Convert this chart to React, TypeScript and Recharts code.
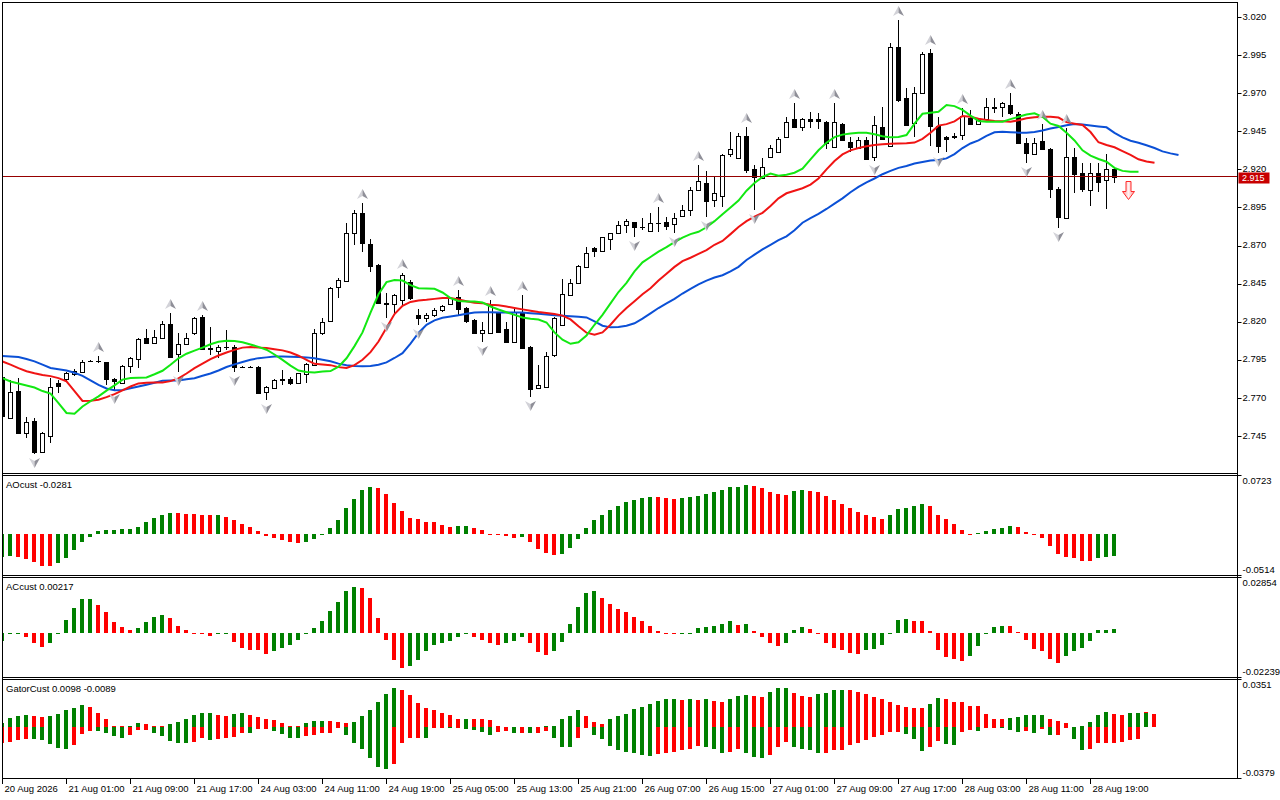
import React from "react";
import { ComposedChart, Bar, Line, XAxis, YAxis, Scatter, ReferenceLine, Cell } from "recharts";

// ---------- DATA ----------
const opens = [
  2.7840, 2.7570, 2.7746, 2.7468, 2.7549, 2.7342, 2.7452, 2.7796, 2.7822, 2.7857,
  2.7872, 2.7942, 2.7943, 2.7934, 2.7822, 2.7796, 2.7912, 2.7953, 2.8091, 2.8063,
  2.8091, 2.8185, 2.7986, 2.8052, 2.8124, 2.8229, 2.8021, 2.8010, 2.8034, 2.8036,
  2.7905, 2.7905, 2.7905, 2.7737, 2.7763, 2.7820, 2.7825, 2.7800, 2.7857, 2.7916,
  2.8124, 2.8207, 2.8430, 2.8469, 2.8780, 2.8916, 2.8710, 2.8572, 2.8319, 2.8317,
  2.8343, 2.8461, 2.8244, 2.8222, 2.8244, 2.8277, 2.8314, 2.8360, 2.8288, 2.8211,
  2.8124, 2.8128, 2.8255, 2.8150, 2.8069, 2.8266, 2.8036, 2.7763, 2.7774, 2.7981,
  2.8178, 2.8376, 2.8456, 2.8561, 2.8682, 2.8666, 2.8741, 2.8780, 2.8835, 2.8852,
  2.8822, 2.8798, 2.8848, 2.8852, 2.8839, 2.8894, 2.8933, 2.9065, 2.9108, 2.8999,
  2.9025, 2.9299, 2.9272, 2.9419, 2.9200, 2.9141, 2.9279, 2.9316, 2.9410, 2.9528,
  2.9476, 2.9528, 2.9528, 2.9513, 2.9349, 2.9495, 2.9382, 2.9338, 2.9395, 2.9279,
  2.9476, 2.9353, 3.0005, 2.9666, 2.9502, 2.9699, 2.9966, 2.9485, 2.9415, 2.9417,
  2.9426, 2.9535, 2.9498, 2.9528, 2.9605, 2.9607, 2.9622, 2.9563, 2.9375, 2.9301,
  2.9388, 2.9332, 2.9069, 2.8879, 2.9279, 2.9178, 2.9065, 2.9178, 2.9130, 2.9200,
];
const highs = [
  2.7850, 2.7818, 2.7829, 2.7577, 2.7570, 2.7479, 2.7829, 2.7818, 2.7872, 2.7888,
  2.7949, 2.7949, 2.7975, 2.7938, 2.7829, 2.7916, 2.7971, 2.8091, 2.8152, 2.8146,
  2.8205, 2.8255, 2.8124, 2.8124, 2.8228, 2.8244, 2.8168, 2.8047, 2.8146, 2.8047,
  2.7912, 2.7910, 2.7910, 2.7781, 2.7825, 2.7883, 2.7840, 2.7866, 2.7927, 2.8150,
  2.8222, 2.8430, 2.8485, 2.8846, 2.8933, 2.8977, 2.8741, 2.8578, 2.8387, 2.8383,
  2.8518, 2.8474, 2.8281, 2.8255, 2.8290, 2.8310, 2.8360, 2.8408, 2.8299, 2.8215,
  2.8200, 2.8343, 2.8266, 2.8200, 2.8288, 2.8375, 2.8041, 2.7916, 2.8004, 2.8233,
  2.8478, 2.8478, 2.8572, 2.8693, 2.8693, 2.8758, 2.8785, 2.8863, 2.8872, 2.8856,
  2.8879, 2.8911, 2.8955, 2.8889, 2.8911, 2.8966, 2.9086, 2.9229, 2.9189, 2.9148,
  2.9301, 2.9447, 2.9436, 2.9480, 2.9229, 2.9272, 2.9360, 2.9415, 2.9541, 2.9638,
  2.9535, 2.9579, 2.9568, 2.9520, 2.9638, 2.9502, 2.9415, 2.9415, 2.9415, 2.9548,
  2.9611, 3.0032, 3.0180, 2.9732, 2.9738, 2.9972, 2.9988, 2.9546, 2.9419, 2.9437,
  2.9601, 2.9590, 2.9535, 2.9666, 2.9666, 2.9644, 2.9699, 2.9579, 2.9404, 2.9404,
  2.9498, 2.9338, 2.9082, 2.9469, 2.9338, 2.9244, 2.9244, 2.9240, 2.9301, 2.9207,
];
const lows = [
  2.7577, 2.7562, 2.7468, 2.7435, 2.7332, 2.7338, 2.7402, 2.7730, 2.7813, 2.7844,
  2.7866, 2.7935, 2.7931, 2.7785, 2.7752, 2.7792, 2.7861, 2.7894, 2.8058, 2.8058,
  2.8085, 2.7967, 2.7872, 2.8047, 2.8113, 2.8019, 2.7981, 2.7960, 2.8014, 2.7872,
  2.7898, 2.7898, 2.7730, 2.7687, 2.7756, 2.7785, 2.7785, 2.7796, 2.7796, 2.7914,
  2.8113, 2.8204, 2.8353, 2.8462, 2.8704, 2.8660, 2.8528, 2.8315, 2.8222, 2.8255,
  2.8310, 2.8343, 2.8178, 2.8200, 2.8233, 2.8262, 2.8309, 2.8240, 2.8189, 2.8124,
  2.8069, 2.8124, 2.8128, 2.8063, 2.8063, 2.8025, 2.7708, 2.7756, 2.7768, 2.7970,
  2.8172, 2.8370, 2.8452, 2.8557, 2.8628, 2.8660, 2.8671, 2.8776, 2.8780, 2.8758,
  2.8802, 2.8796, 2.8791, 2.8802, 2.8780, 2.8889, 2.8893, 2.9060, 2.8889, 2.8951,
  2.8955, 2.9284, 2.9266, 2.9178, 2.8933, 2.9135, 2.9272, 2.9310, 2.9404, 2.9469,
  2.9449, 2.9469, 2.9462, 2.9331, 2.9345, 2.9386, 2.9317, 2.9331, 2.9262, 2.9252,
  2.9395, 2.9349, 2.9645, 2.9484, 2.9415, 2.9695, 2.9353, 2.9310, 2.9316, 2.9397,
  2.9393, 2.9491, 2.9491, 2.9524, 2.9568, 2.9546, 2.9557, 2.9371, 2.9244, 2.9295,
  2.9327, 2.9010, 2.8813, 2.8875, 2.9043, 2.9049, 2.8959, 2.9049, 2.8938, 2.9108,
];
const closes = [
  2.7583, 2.7737, 2.7472, 2.7544, 2.7343, 2.7468, 2.7774, 2.7780, 2.7862, 2.7879,
  2.7938, 2.7943, 2.7941, 2.7822, 2.7814, 2.7912, 2.7960, 2.8085, 2.8063, 2.8102,
  2.8185, 2.7971, 2.8052, 2.8091, 2.8222, 2.8021, 2.8025, 2.8036, 2.8036, 2.7901,
  2.7903, 2.7906, 2.7734, 2.7774, 2.7818, 2.7822, 2.7796, 2.7862, 2.7920, 2.8124,
  2.8200, 2.8419, 2.8474, 2.8780, 2.8916, 2.8719, 2.8566, 2.8321, 2.8323, 2.8376,
  2.8507, 2.8354, 2.8226, 2.8244, 2.8277, 2.8303, 2.8353, 2.8281, 2.8207, 2.8128,
  2.8146, 2.8310, 2.8135, 2.8069, 2.8266, 2.8025, 2.7756, 2.7785, 2.7975, 2.8222,
  2.8380, 2.8456, 2.8566, 2.8649, 2.8666, 2.8754, 2.8780, 2.8835, 2.8861, 2.8820,
  2.8820, 2.8850, 2.8850, 2.8830, 2.8879, 2.8933, 2.9065, 2.9124, 2.8992, 2.9043,
  2.9294, 2.9331, 2.9419, 2.9196, 2.9148, 2.9218, 2.9338, 2.9397, 2.9513, 2.9476,
  2.9528, 2.9517, 2.9517, 2.9371, 2.9509, 2.9393, 2.9349, 2.9393, 2.9269, 2.9491,
  2.9401, 3.0005, 2.9655, 2.9491, 2.9699, 2.9957, 2.9485, 2.9353, 2.9397, 2.9415,
  2.9550, 2.9498, 2.9524, 2.9607, 2.9607, 2.9638, 2.9568, 2.9375, 2.9310, 2.9375,
  2.9332, 2.9069, 2.8890, 2.9279, 2.9170, 2.9069, 2.9178, 2.9119, 2.9200, 2.9150,
];

// Alligator lines (jaw shifted 8 bars, teeth 5, lips 3)
const jaw = [
  2.7975, 2.7972, 2.7968, 2.7955, 2.7940, 2.7918, 2.7896, 2.7888, 2.7880, 2.7865,
  2.7845, 2.7815, 2.7786, 2.7762, 2.7750, 2.7752, 2.7763, 2.7775, 2.7786, 2.7800,
  2.7812, 2.7814, 2.7815, 2.7822, 2.7829, 2.7845, 2.7860, 2.7880, 2.7903, 2.7920,
  2.7936, 2.7950, 2.7961, 2.7966, 2.7971, 2.7972, 2.7970, 2.7968, 2.7966, 2.7960,
  2.7950, 2.7940, 2.7925, 2.7915, 2.7909, 2.7907, 2.7910, 2.7918, 2.7933, 2.7962,
  2.7994, 2.8056, 2.8126, 2.8180, 2.8209, 2.8226, 2.8235, 2.8242, 2.8252, 2.8261,
  2.8262, 2.8262, 2.8261, 2.8261, 2.8261, 2.8260, 2.8256, 2.8252, 2.8248, 2.8243,
  2.8240, 2.8236, 2.8232, 2.8228, 2.8202, 2.8174, 2.8163, 2.8165, 2.8174, 2.8190,
  2.8220, 2.8255, 2.8290, 2.8320, 2.8350, 2.8385, 2.8415, 2.8445, 2.8470, 2.8490,
  2.8505, 2.8530, 2.8560, 2.8605, 2.8640, 2.8675, 2.8705, 2.8735, 2.8760, 2.8800,
  2.8850, 2.8880, 2.8908, 2.8940, 2.8975, 2.9010, 2.9050, 2.9085, 2.9115, 2.9140,
  2.9168, 2.9190, 2.9210, 2.9222, 2.9238, 2.9248, 2.9258, 2.9262, 2.9272, 2.9300,
  2.9340, 2.9370, 2.9390, 2.9420, 2.9443, 2.9447, 2.9444, 2.9441, 2.9441, 2.9445,
  2.9455, 2.9468, 2.9478, 2.9490, 2.9498, 2.9495, 2.9488, 2.9482, 2.9476, 2.9440,
  2.9410, 2.9388, 2.9375, 2.9358, 2.9340, 2.9318, 2.9305, 2.9294,
];
const teeth = [
  2.7939, 2.7918, 2.7895, 2.7875, 2.7862, 2.7851, 2.7843, 2.7830, 2.7808, 2.7745,
  2.7680, 2.7682, 2.7688, 2.7705, 2.7725, 2.7750, 2.7775, 2.7795, 2.7800, 2.7801,
  2.7801, 2.7810, 2.7828, 2.7860, 2.7895, 2.7925, 2.7955, 2.7978, 2.7998, 2.8015,
  2.8030, 2.8034, 2.8030, 2.8027, 2.8020, 2.8012, 2.7998, 2.7977, 2.7950, 2.7924,
  2.7920, 2.7915, 2.7902, 2.7896, 2.7915, 2.7950, 2.8000, 2.8070, 2.8160, 2.8250,
  2.8305, 2.8330, 2.8340, 2.8344, 2.8350, 2.8355, 2.8355, 2.8346, 2.8335, 2.8325,
  2.8322, 2.8312, 2.8308, 2.8300, 2.8290, 2.8281, 2.8272, 2.8264, 2.8258, 2.8250,
  2.8240, 2.8215, 2.8170, 2.8128, 2.8115, 2.8130, 2.8180, 2.8240, 2.8290, 2.8335,
  2.8380, 2.8420, 2.8470, 2.8515, 2.8560, 2.8598, 2.8620, 2.8645, 2.8670, 2.8705,
  2.8730, 2.8775, 2.8822, 2.8860, 2.8890, 2.8915, 2.8960, 2.9010, 2.9043, 2.9060,
  2.9076, 2.9100, 2.9140, 2.9200, 2.9255, 2.9298, 2.9325, 2.9340, 2.9352, 2.9360,
  2.9365, 2.9368, 2.9370, 2.9372, 2.9376, 2.9400, 2.9440, 2.9487, 2.9497, 2.9515,
  2.9550, 2.9545, 2.9532, 2.9524, 2.9518, 2.9515, 2.9513, 2.9522, 2.9535, 2.9542,
  2.9546, 2.9546, 2.9540, 2.9510, 2.9500, 2.9491, 2.9445, 2.9378, 2.9360, 2.9345,
  2.9320, 2.9295, 2.9266, 2.9252, 2.9244,
];
const lips = [
  2.7830, 2.7808, 2.7795, 2.7782, 2.7768, 2.7745, 2.7728, 2.7666, 2.7601, 2.7596,
  2.7644, 2.7678, 2.7710, 2.7748, 2.7782, 2.7820, 2.7830, 2.7832, 2.7834, 2.7855,
  2.7878, 2.7918, 2.7960, 2.7990, 2.8010, 2.8030, 2.8052, 2.8068, 2.8075, 2.8073,
  2.8065, 2.8050, 2.8035, 2.8016, 2.7985, 2.7950, 2.7912, 2.7880, 2.7870, 2.7867,
  2.7874, 2.7876, 2.7905, 2.7960, 2.8040, 2.8130, 2.8260, 2.8380, 2.8460, 2.8474,
  2.8470, 2.8440, 2.8420, 2.8418, 2.8416, 2.8392, 2.8355, 2.8336, 2.8333, 2.8333,
  2.8326, 2.8300, 2.8280, 2.8262, 2.8245, 2.8228, 2.8220, 2.8214, 2.8195, 2.8130,
  2.8082, 2.8055, 2.8065, 2.8110, 2.8180, 2.8245, 2.8320, 2.8395, 2.8455, 2.8530,
  2.8590, 2.8625, 2.8660, 2.8690, 2.8722, 2.8752, 2.8775, 2.8790, 2.8820, 2.8860,
  2.8905, 2.8950, 2.8995, 2.9060, 2.9110, 2.9150, 2.9172, 2.9158, 2.9165, 2.9178,
  2.9205, 2.9265, 2.9325, 2.9375, 2.9412, 2.9428, 2.9436, 2.9440, 2.9440, 2.9430,
  2.9418, 2.9410, 2.9412, 2.9425, 2.9500, 2.9565, 2.9572, 2.9578, 2.9622, 2.9615,
  2.9590, 2.9553, 2.9518, 2.9513, 2.9513, 2.9513, 2.9530, 2.9545, 2.9560, 2.9568,
  2.9545, 2.9500, 2.9485, 2.9440, 2.9390, 2.9325, 2.9290, 2.9268, 2.9250, 2.9210,
  2.9190, 2.9185, 2.9185,
];

const fractalUpBars = [12, 21, 25, 45, 50, 57, 61, 65, 82, 87, 93, 99, 104, 112, 116, 120, 126, 130, 133];
const fractalDownBars = [4, 14, 22, 29, 33, 48, 52, 60, 66, 79, 84, 88, 94, 109, 117, 128, 132];
const sellSignals = [{ i: 141, v: 2.9124 }];
const currentPrice = 2.915;
const priceTicks = [3.02, 2.995, 2.97, 2.945, 2.92, 2.895, 2.87, 2.845, 2.82, 2.795, 2.77, 2.745];

const aoValues = [
  -0.0291, -0.0272, -0.0290, -0.0312, -0.0354, -0.0398, -0.0401, -0.0366, -0.0300, -0.0200,
  -0.0104, -0.0033, 0.0033, 0.0048, 0.0052, 0.0062, 0.0067, 0.0087, 0.0142, 0.0192,
  0.0237, 0.0262, 0.0260, 0.0250, 0.0246, 0.0237, 0.0233, 0.0237, 0.0208, 0.0175,
  0.0125, 0.0083, 0.0037, -0.0021, -0.0054, -0.0075, -0.0096, -0.0108, -0.0096, -0.0062,
  -0.0008, 0.0079, 0.0175, 0.0321, 0.0437, 0.0550, 0.0583, 0.0571, 0.0500, 0.0383,
  0.0287, 0.0196, 0.0183, 0.0146, 0.0142, 0.0112, 0.0083, 0.0100, 0.0104, 0.0079,
  0.0050, 0.0004, -0.0004, -0.0029, -0.0046, -0.0042, -0.0096, -0.0187, -0.0233, -0.0262,
  -0.0250, -0.0171, -0.0062, 0.0071, 0.0175, 0.0237, 0.0292, 0.0350, 0.0394, 0.0425,
  0.0454, 0.0462, 0.0458, 0.0454, 0.0441, 0.0446, 0.0458, 0.0479, 0.0496, 0.0521,
  0.0546, 0.0583, 0.0587, 0.0612, 0.0600, 0.0571, 0.0529, 0.0500, 0.0487, 0.0537,
  0.0550, 0.0537, 0.0521, 0.0475, 0.0425, 0.0375, 0.0321, 0.0271, 0.0237, 0.0212,
  0.0187, 0.0237, 0.0312, 0.0329, 0.0342, 0.0371, 0.0350, 0.0237, 0.0183, 0.0125,
  0.0050, 0.0002, 0.0005, 0.0037, 0.0062, 0.0079, 0.0100, 0.0083, 0.0029, -0.0012,
  -0.0054, -0.0146, -0.0250, -0.0283, -0.0296, -0.0333, -0.0337, -0.0296, -0.0285, -0.0281,
];
const aoScale = [-0.0514, 0.0723];

const acValues = [
  -0.0039, -0.0003, -0.0002, -0.0019, -0.0051, -0.0070, -0.0048, -0.0003, 0.0069, 0.0129,
  0.0175, 0.0177, 0.0149, 0.0110, 0.0058, 0.0033, 0.0017, 0.0027, 0.0058, 0.0084,
  0.0093, 0.0081, 0.0041, 0.0017, 0.0003, -0.0002, -0.0014, -0.0005, -0.0003, -0.0045,
  -0.0077, -0.0086, -0.0087, -0.0108, -0.0091, -0.0077, -0.0060, -0.0034, -0.0003, 0.0026,
  0.0063, 0.0118, 0.0161, 0.0218, 0.0240, 0.0235, 0.0180, 0.0081, -0.0031, -0.0134,
  -0.0180, -0.0165, -0.0134, -0.0091, -0.0057, -0.0048, -0.0039, -0.0017, -0.0005, -0.0017,
  -0.0034, -0.0051, -0.0057, -0.0051, -0.0039, -0.0017, -0.0048, -0.0094, -0.0111, -0.0091,
  -0.0043, 0.0051, 0.0137, 0.0209, 0.0218, 0.0184, 0.0153, 0.0127, 0.0110, 0.0086,
  0.0062, 0.0041, 0.0015, -0.0002, -0.0005, -0.0003, -0.0001, 0.0026, 0.0033, 0.0038,
  0.0050, 0.0063, 0.0043, 0.0048, 0.0012, -0.0017, -0.0048, -0.0065, -0.0048, 0.0017,
  0.0033, 0.0021, -0.0002, -0.0048, -0.0077, -0.0086, -0.0103, -0.0105, -0.0086, -0.0082,
  -0.0057, -0.0002, 0.0069, 0.0072, 0.0063, 0.0062, 0.0012, -0.0086, -0.0122, -0.0129,
  -0.0142, -0.0117, -0.0065, -0.0002, 0.0034, 0.0041, 0.0039, 0.0007, -0.0036, -0.0082,
  -0.0091, -0.0129, -0.0154, -0.0117, -0.0091, -0.0074, -0.0039, 0.0017, 0.0020, 0.00217,
];
const acScale = [-0.02239, 0.02854];

const gatorUpper = [
  0.0032, 0.0069, 0.0082, 0.0089, 0.0084, 0.0079, 0.0082, 0.0099, 0.0124, 0.0141,
  0.0164, 0.0149, 0.0102, 0.0062, 0.0012, 0.0007, 0.0012, 0.0027, 0.0025, 0.0012,
  0.0007, 0.0020, 0.0040, 0.0064, 0.0089, 0.0102, 0.0104, 0.0087, 0.0085, 0.0099,
  0.0102, 0.0087, 0.0074, 0.0062, 0.0050, 0.0027, 0.0012, 0.0007, 0.0027, 0.0045,
  0.0046, 0.0044, 0.0040, 0.0027, 0.0040, 0.0082, 0.0124, 0.0186, 0.0243, 0.0288,
  0.0280, 0.0236, 0.0176, 0.0139, 0.0131, 0.0102, 0.0087, 0.0062, 0.0063, 0.0062,
  0.0061, 0.0052, 0.0007, 0.0002, 0.0003, 0.0004, 0.0003, 0.0004, 0.0007, 0.0012,
  0.0057, 0.0082, 0.0124, 0.0082, 0.0037, 0.0020, 0.0062, 0.0085, 0.0099, 0.0136,
  0.0151, 0.0169, 0.0193, 0.0206, 0.0207, 0.0205, 0.0206, 0.0204, 0.0206, 0.0193,
  0.0188, 0.0206, 0.0231, 0.0236, 0.0231, 0.0226, 0.0260, 0.0288, 0.0290, 0.0255,
  0.0231, 0.0223, 0.0250, 0.0255, 0.0275, 0.0276, 0.0275, 0.0260, 0.0243, 0.0223,
  0.0206, 0.0186, 0.0164, 0.0149, 0.0141, 0.0140, 0.0174, 0.0218, 0.0211, 0.0188,
  0.0187, 0.0156, 0.0155, 0.0099, 0.0062, 0.0061, 0.0069, 0.0077, 0.0087, 0.0088,
  0.0089, 0.0062, 0.0045, 0.0032, 0.0001, 0.0007, 0.0037, 0.0087, 0.0112, 0.0099,
  0.0094, 0.0102, 0.0103, 0.0112, 0.0098,
];
const gatorLower = [
  -0.0117, -0.0109, -0.0097, -0.0087, -0.0092, -0.0097, -0.0124, -0.0154, -0.0161, -0.0134,
  -0.0050, -0.0030, -0.0031, -0.0042, -0.0067, -0.0079, -0.0055, -0.0025, -0.0024, -0.0042,
  -0.0067, -0.0104, -0.0117, -0.0118, -0.0114, -0.0079, -0.0099, -0.0092, -0.0079, -0.0074,
  -0.0042, -0.0043, -0.0017, -0.0012, -0.0030, -0.0050, -0.0079, -0.0084, -0.0067, -0.0055,
  -0.0042, -0.0041, -0.0005, -0.0062, -0.0117, -0.0161, -0.0228, -0.0295, -0.0315, -0.0273,
  -0.0117, -0.0084, -0.0079, -0.0080, -0.0005, -0.0004, -0.0005, -0.0004, -0.0012, -0.0025,
  -0.0037, -0.0055, -0.0037, -0.0030, -0.0047, -0.0042, -0.0047, -0.0042, -0.0030, -0.0079,
  -0.0149, -0.0150, -0.0084, -0.0005, -0.0055, -0.0092, -0.0141, -0.0171, -0.0186, -0.0196,
  -0.0208, -0.0216, -0.0198, -0.0191, -0.0186, -0.0174, -0.0166, -0.0141, -0.0149, -0.0161,
  -0.0191, -0.0186, -0.0166, -0.0196, -0.0221, -0.0228, -0.0211, -0.0149, -0.0112, -0.0146,
  -0.0161, -0.0171, -0.0196, -0.0195, -0.0171, -0.0170, -0.0134, -0.0117, -0.0099, -0.0074,
  -0.0055, -0.0037, -0.0036, -0.0050, -0.0092, -0.0179, -0.0146, -0.0104, -0.0129, -0.0130,
  -0.0037, -0.0022, -0.0030, -0.0010, -0.0001, -0.0010, -0.0022, -0.0037, -0.0032, -0.0042,
  -0.0012, -0.0060, -0.0058, -0.0005, -0.0087, -0.0174, -0.0161, -0.0117, -0.0116, -0.0115,
  -0.0113, -0.0097, -0.0089,
];
const gatorScale = [-0.0379, 0.0351];

const timeTickBars = [0, 8, 16, 24, 32, 40, 48, 56, 64, 72, 80, 88, 96, 104, 112, 120, 128, 136];
const timeLabels = [
  "20 Aug 2026", "21 Aug 01:00", "21 Aug 09:00", "21 Aug 17:00", "24 Aug 03:00", "24 Aug 11:00",
  "24 Aug 19:00", "25 Aug 05:00", "25 Aug 13:00", "25 Aug 21:00", "26 Aug 07:00", "26 Aug 15:00",
  "27 Aug 01:00", "27 Aug 09:00", "27 Aug 17:00", "28 Aug 03:00", "28 Aug 11:00", "28 Aug 19:00",
];

// ---------- STYLE ----------
const FONT = "'Liberation Sans', Arial, Helvetica, sans-serif";
const FS = 9.5;
const GREEN = "#008000";
const RED = "#ff0000";
const W = 1280;
const AXIS_W = 42.5;
const X_DOMAIN: [number, number] = [-0.0625, 154.375];
const MAIN_DOMAIN: [number, number] = [2.720714, 3.029845];

// ---------- derived tables ----------
const mainData = jaw.map((j, i) => ({
  i,
  o: i < opens.length ? opens[i] : null,
  h: i < highs.length ? highs[i] : null,
  l: i < lows.length ? lows[i] : null,
  c: i < closes.length ? closes[i] : null,
  jaw: j,
  teeth: i < teeth.length ? teeth[i] : null,
  lips: i < lips.length ? lips[i] : null,
}));
const fractalUpData = fractalUpBars.map((i) => ({ i, v: highs[i] }));
const fractalDownData = fractalDownBars.map((i) => ({ i, v: lows[i] }));
const aoData = aoValues.map((v, i) => ({ i, v }));
const acData = acValues.map((v, i) => ({ i, v }));
const gatorData = gatorUpper.map((u, i) => ({ i, up: u, dn: i < gatorLower.length ? gatorLower[i] : null }));

const histColor = (arr: number[], i: number) => (i > 0 && arr[i] < arr[i - 1] ? RED : GREEN);
const lowerColor = (arr: number[], i: number) => (i > 0 && Math.abs(arr[i]) > Math.abs(arr[i - 1]) ? GREEN : RED);

// ---------- shapes ----------
const Candle = (p: any) => {
  const { x, width, y, height, payload } = p;
  if (!payload || payload.h == null || !isFinite(y) || !isFinite(height)) return null;
  const top = Math.min(y, y + height);
  const span = Math.abs(height);
  const range = payload.h - payload.l;
  const yOf = (v: number) => (range > 0 ? top + ((payload.h - v) / range) * span : top);
  const cx = Math.round(x + width / 2 - 0.5) + 0.5;
  const yH = Math.round(top);
  const yL = Math.round(top + span);
  const yO = yOf(payload.o);
  const yC = yOf(payload.c);
  const bTop = Math.round(Math.min(yO, yC));
  const bBot = Math.round(Math.max(yO, yC));
  const bull = payload.c >= payload.o;
  return (
    <g>
      <rect x={cx - 0.5} y={yH} width={1} height={Math.max(1, yL - yH)} fill="#000" />
      {bBot - bTop >= 1 ? (
        <rect x={cx - 2} y={bTop + 0.5} width={4} height={bBot - bTop} fill={bull ? "#fff" : "#000"} stroke="#000" strokeWidth={1} />
      ) : (
        <rect x={cx - 2.5} y={bTop} width={5} height={1} fill="#000" />
      )}
    </g>
  );
};

const HistBar = (p: any) => {
  const { x, y, width, height, fill } = p;
  if (x == null || !isFinite(y) || !isFinite(height)) return null;
  const y0 = Math.round(Math.min(y, y + height));
  const y1 = Math.round(Math.max(y, y + height));
  const cx = x + width / 2;
  return <rect x={Math.floor(cx - 2)} y={y0} width={4} height={Math.max(1, y1 - y0)} fill={fill} />;
};

const FractalUp = (p: any) => {
  const { cx, cy } = p;
  if (cx == null || cy == null) return null;
  const x = Math.round(cx - 0.5) + 0.5;
  const b = Math.round(cy) - 4;
  const t = b - 10;
  return (
    <g>
      <path d={`M${x},${t} L${x - 5.5},${b} L${x},${b - 3} Z`} fill="#d2d2d8" />
      <path d={`M${x},${t} L${x + 5.5},${b} L${x},${b - 3} Z`} fill="#8f8f98" />
    </g>
  );
};
const FractalDown = (p: any) => {
  const { cx, cy } = p;
  if (cx == null || cy == null) return null;
  const x = Math.round(cx - 0.5) + 0.5;
  const b = Math.round(cy) + 4;
  const t = b + 10;
  return (
    <g>
      <path d={`M${x},${t} L${x - 5.5},${b} L${x},${b + 3} Z`} fill="#d2d2d8" />
      <path d={`M${x},${t} L${x + 5.5},${b} L${x},${b + 3} Z`} fill="#8f8f98" />
    </g>
  );
};
const SellArrow = (p: any) => {
  const { cx, cy } = p;
  if (cx == null || cy == null) return null;
  const ax = Math.round(cx) - 3 + 0.5;
  const t = Math.round(cy) + 0.5;
  const d = `M${ax - 2.5},${t} H${ax + 2.5} V${t + 10} H${ax + 6} L${ax},${t + 18} L${ax - 6},${t + 10} H${ax - 2.5} Z`;
  return (
    <g>
      <defs>
        <linearGradient id="sellGrad" x1="0" y1="0" x2="1" y2="0">
          <stop offset="0" stopColor="#ff9090" />
          <stop offset="0.5" stopColor="#fff2f2" />
          <stop offset="1" stopColor="#ff9090" />
        </linearGradient>
      </defs>
      <path d={d} fill="url(#sellGrad)" stroke="#ff2a2a" strokeWidth={1} />
    </g>
  );
};

const PriceLine = (p: any) => {
  const { x1, x2, y1 } = p;
  if (x1 == null || y1 == null) return null;
  const y = Math.round(y1 - 0.5) + 0.5;
  return <line x1={x1} x2={x2} y1={y} y2={y} stroke="#960000" strokeWidth={1} />;
};

// ---------- ticks ----------
const MainYTick = (p: any) => {
  const { x, y, payload } = p;
  const v = payload.value as number;
  const yy = Math.round(y) + 0.5;
  if (v === currentPrice) {
    return (
      <g>
        <rect x={x + 1} y={Math.round(y) - 4.5} width={31} height={11} fill="#c80000" />
        <text x={x + 4.5} y={y + 1} dy="0.33em" fill="#fff" fontSize={9} fontFamily={FONT}>{v.toFixed(3)}</text>
      </g>
    );
  }
  return (
    <g>
      <line x1={x} x2={x + 4} y1={yy} y2={yy} stroke="#000" strokeWidth={1} />
      <text x={x + 5} y={y - 0.5} dy="0.33em" fill="#000" fontSize={FS} fontFamily={FONT}>{v.toFixed(3)}</text>
    </g>
  );
};
const makeScaleTick = (maxV: number) => (p: any) => {
  const { x, y, payload } = p;
  const isTop = payload.value === maxV;
  const yy = isTop ? Math.round(y) - 0.5 : Math.round(y) + 0.5;
  return (
    <g>
      <line x1={x} x2={x + 4} y1={yy} y2={yy} stroke="#000" strokeWidth={1} />
      <text x={x + 5} y={isTop ? y + 5 : y - 5} dy="0.35em" fill="#000" fontSize={FS} fontFamily={FONT}>{String(payload.value)}</text>
    </g>
  );
};
const TimeTick = (p: any) => {
  const { x, y, payload } = p;
  const k = timeTickBars.indexOf(payload.value);
  const cx = Math.round(x - 0.5) + 0.5;
  return (
    <g>
      <line x1={cx} x2={cx} y1={y + 1} y2={y + 6} stroke="#000" strokeWidth={1} />
      <text x={cx + 2} y={y + 14} fill="#000" fontSize={FS} fontFamily={FONT}>{timeLabels[k]}</text>
    </g>
  );
};

const hLine = (top: number) => (
  <div key={"h" + top} style={{ position: "absolute", left: 2, top, width: 1236, height: 1, background: "#000" }} />
);

const paneLabel = (text: string, top: number) => (
  <div style={{ position: "absolute", left: 6, top, fontSize: FS, lineHeight: "12px", fontFamily: FONT, color: "#000", whiteSpace: "nowrap" }}>{text}</div>
);

export default function App() {
  const xAxisHidden = <XAxis xAxisId={0} dataKey="i" type="number" domain={X_DOMAIN} allowDataOverflow hide height={0} />;
  return (
    <div style={{ position: "fixed", left: 0, top: 0, width: W, height: 800, background: "#fff", overflow: "hidden" }}>
      {/* Main price pane */}
      <div style={{ position: "absolute", left: 0, top: 0 }}>
        <ComposedChart width={W} height={474} data={mainData} margin={{ top: 2, right: 0, bottom: 1, left: 2 }}>
          {xAxisHidden}
          <YAxis
            orientation="right"
            width={AXIS_W}
            type="number"
            domain={MAIN_DOMAIN}
            allowDataOverflow
            ticks={[...priceTicks, currentPrice]}
            interval={0}
            tick={MainYTick}
            tickLine={false}
            axisLine={false}
            tickSize={0}
            tickMargin={0}
          />
          <ReferenceLine y={currentPrice} shape={PriceLine} />
          <Bar dataKey={(d: any) => (d.h == null ? null : [d.l, d.h])} barSize={5} shape={Candle} isAnimationActive={false} />
          <Line dataKey="jaw" type="linear" stroke="#0b50d6" strokeWidth={2} dot={false} isAnimationActive={false} />
          <Line dataKey="teeth" type="linear" stroke="#f01414" strokeWidth={2} dot={false} isAnimationActive={false} />
          <Line dataKey="lips" type="linear" stroke="#12e812" strokeWidth={2} dot={false} isAnimationActive={false} />
          <Scatter data={fractalUpData} dataKey="v" shape={FractalUp} isAnimationActive={false} />
          <Scatter data={fractalDownData} dataKey="v" shape={FractalDown} isAnimationActive={false} />
          <Scatter data={sellSignals} dataKey="v" shape={SellArrow} isAnimationActive={false} />
        </ComposedChart>
      </div>

      {/* AO pane */}
      <div style={{ position: "absolute", left: 0, top: 475 }}>
        <ComposedChart width={W} height={101} data={aoData} margin={{ top: 1, right: 0, bottom: 1, left: 2 }}>
          {xAxisHidden}
          <YAxis orientation="right" width={AXIS_W} type="number" domain={[aoScale[0], aoScale[1]]} allowDataOverflow ticks={aoScale} interval={0} tick={makeScaleTick(aoScale[1])} tickLine={false} axisLine={false} tickSize={0} tickMargin={0} />
          <Bar dataKey="v" barSize={4} shape={HistBar} isAnimationActive={false}>
            {aoValues.map((_, i) => <Cell key={i} fill={histColor(aoValues, i)} />)}
          </Bar>
        </ComposedChart>
      </div>

      {/* AC pane */}
      <div style={{ position: "absolute", left: 0, top: 577 }}>
        <ComposedChart width={W} height={101} data={acData} margin={{ top: 1, right: 0, bottom: 1, left: 2 }}>
          {xAxisHidden}
          <YAxis orientation="right" width={AXIS_W} type="number" domain={[acScale[0], acScale[1]]} allowDataOverflow ticks={acScale} interval={0} tick={makeScaleTick(acScale[1])} tickLine={false} axisLine={false} tickSize={0} tickMargin={0} />
          <Bar dataKey="v" barSize={4} shape={HistBar} isAnimationActive={false}>
            {acValues.map((_, i) => <Cell key={i} fill={histColor(acValues, i)} />)}
          </Bar>
        </ComposedChart>
      </div>

      {/* Gator pane with time axis */}
      <div style={{ position: "absolute", left: 0, top: 679 }}>
        <ComposedChart width={W} height={120} data={gatorData} stackOffset="sign" margin={{ top: 1, right: 0, bottom: 0, left: 2 }}>
          <XAxis
            dataKey="i"
            type="number"
            domain={X_DOMAIN}
            allowDataOverflow
            ticks={timeTickBars}
            interval={0}
            height={21}
            tick={TimeTick}
            tickLine={false}
            axisLine={false}
            tickSize={0}
            tickMargin={0}
          />
          <YAxis orientation="right" width={AXIS_W} type="number" domain={[gatorScale[0], gatorScale[1]]} allowDataOverflow ticks={gatorScale} interval={0} tick={makeScaleTick(gatorScale[1])} tickLine={false} axisLine={false} tickSize={0} tickMargin={0} />
          <Bar dataKey="up" stackId="g" barSize={4} shape={HistBar} isAnimationActive={false}>
            {gatorUpper.map((_, i) => <Cell key={i} fill={histColor(gatorUpper, i)} />)}
          </Bar>
          <Bar dataKey="dn" stackId="g" barSize={4} shape={HistBar} isAnimationActive={false}>
            {gatorUpper.map((_, i) => <Cell key={i} fill={i < gatorLower.length ? lowerColor(gatorLower, i) : RED} />)}
          </Bar>
        </ComposedChart>
      </div>

      {/* frame lines */}
      {[2, 473, 475, 575, 577, 677, 679, 778].map(hLine)}
      <div style={{ position: "absolute", left: 2, top: 2, width: 1, height: 777, background: "#000" }} />
      <div style={{ position: "absolute", left: 1237, top: 2, width: 1, height: 777, background: "#000" }} />

      {paneLabel(`AOcust ${aoValues[aoValues.length - 1]}`, 479)}
      {paneLabel(`ACcust ${acValues[acValues.length - 1]}`, 581)}
      {paneLabel(`GatorCust ${gatorUpper[gatorUpper.length - 1]} ${gatorLower[gatorLower.length - 1]}`, 683)}
    </div>
  );
}
